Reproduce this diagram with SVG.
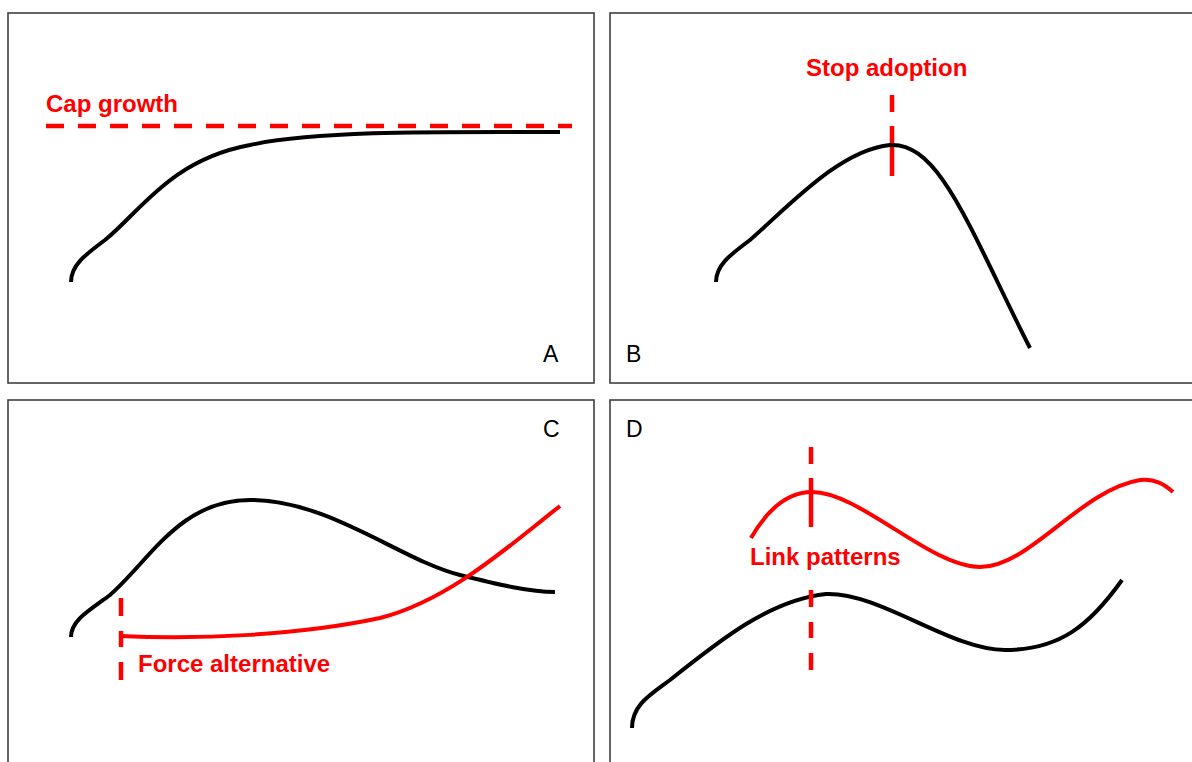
<svg xmlns="http://www.w3.org/2000/svg" width="1192" height="762" viewBox="0 0 1192 762">
<style>
.panel{fill:#fff;stroke:#404040;stroke-width:1.6}
.blk{fill:none;stroke:#000;stroke-width:4;stroke-linecap:butt}
.red{fill:none;stroke:#f00;stroke-width:4}
.dash{fill:none;stroke:#f00;stroke-width:4.5;stroke-dasharray:18 14}
.vd{fill:none;stroke:#f00;stroke-width:4.5}
.lbl{font-family:"Liberation Sans",Arial,sans-serif;font-weight:bold;font-size:24px;fill:#f00}
.let{font-family:"Liberation Sans",Arial,sans-serif;font-size:23px;fill:#000}
</style>
<rect width="1192" height="762" fill="#fff"/>
<g id="panelA">
<rect class="panel" x="8" y="13" width="586" height="370"/>
<path class="dash" d="M46,126 H572"/>
<path class="blk" d="M71,282 C71,265 85,255 105,240 C140,212 170,160 250,145 C320,130 450,132 560,132"/>
<text class="lbl" x="46" y="112">Cap growth</text>
<text class="let" x="543" y="362">A</text>
</g>
<g id="panelB">
<rect class="panel" x="610" y="13" width="600" height="370"/>
<path class="vd" d="M892,95 V112 M892,126 V176"/>
<path class="blk" d="M716,282 C716,265 730,255 750,240 C790,205 840,150 890,145 C940,142 970,230 1030,348"/>
<text class="lbl" x="806" y="76">Stop adoption</text>
<text class="let" x="626" y="362">B</text>
</g>
<g id="panelC">
<rect class="panel" x="8" y="400" width="586" height="380"/>
<path class="blk" d="M71,637 C71,620 90,610 110,595 C150,560 180,500 250,500 C330,500 400,560 460,575 C500,585 530,592 555,592"/>
<path class="red" d="M120,636 C200,640 300,635 380,618 C450,600 510,545 560,506"/>
<path class="vd" d="M121,598 V616 M121,631 V647 M121,662 V680"/>
<text class="lbl" x="138" y="672">Force alternative</text>
<text class="let" x="543" y="437">C</text>
</g>
<g id="panelD">
<rect class="panel" x="610" y="400" width="600" height="380"/>
<path class="blk" d="M632,728 C632,705 650,695 670,680 C720,640 770,600 826,594 C880,592 950,650 1005,650 C1060,650 1090,625 1122,580"/>
<path class="red" d="M751,538 C770,505 790,492 812,492 C860,492 930,567 980,567 C1030,567 1080,490 1140,480 C1155,478 1165,485 1173,492"/>
<path class="vd" d="M811,447 V464 M811,478 V527 M811,590 V607 M811,622 V638 M811,653 V670"/>
<text class="lbl" x="750" y="565">Link patterns</text>
<text class="let" x="626" y="437">D</text>
</g>
</svg>
